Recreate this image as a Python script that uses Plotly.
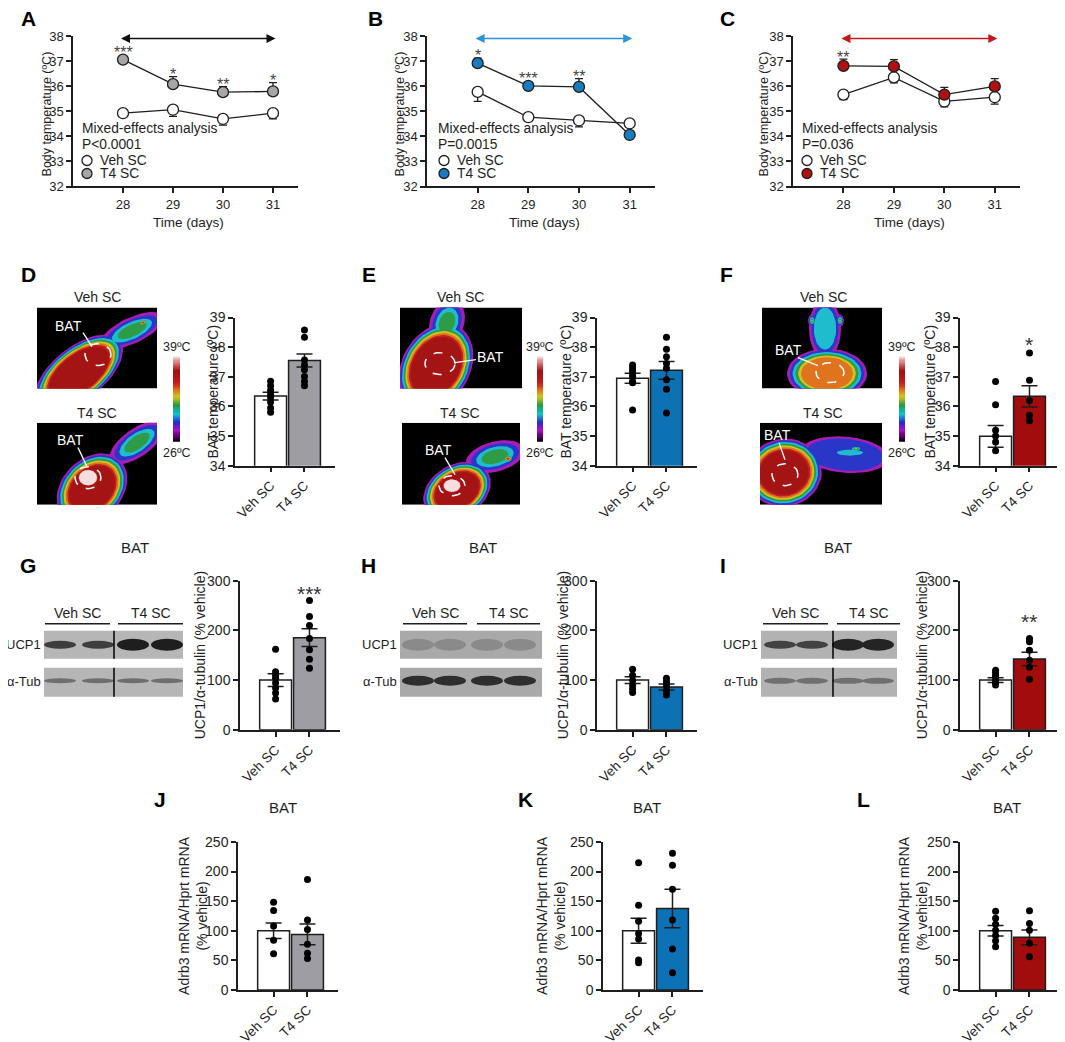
import numpy as np
import plotly.graph_objects as go

W, H = 1065, 1042
FONT = "Liberation Sans, Arial, sans-serif"
INK = "#1e1e1e"

# ---------------- data ----------------
days = [28, 29, 30, 31]
groups = ["Veh SC", "T4 SC"]

# A-C: body temperature (mean, SEM) at 23, 4 and 30 degrees
a_veh = [34.93, 35.07, 34.70, 34.93]
a_veh_sem = [0.05, 0.27, 0.25, 0.23]
a_t4 = [37.07, 36.09, 35.77, 35.80]
a_t4_sem = [0.05, 0.30, 0.22, 0.35]
a_stars = ["***", "*", "**", "*"]

b_veh = [35.78, 34.77, 34.64, 34.52]
b_veh_sem = [0.38, 0.15, 0.26, 0.05]
b_t4 = [36.93, 36.02, 35.98, 34.06]
b_t4_sem = [0.20, 0.05, 0.33, 0.12]
b_stars = ["*", "***", "**", ""]

c_veh = [35.67, 36.36, 35.40, 35.57]
c_veh_sem = [0.20, 0.22, 0.22, 0.28]
c_t4 = [36.82, 36.80, 35.67, 36.00]
c_t4_sem = [0.27, 0.27, 0.29, 0.31]
c_stars = ["**", "", "", ""]

# D-F: BAT temperature
d_mean, d_sem = [36.35, 37.55], [0.13, 0.22]
d_veh_pts = [36.85, 36.7, 36.55, 36.4, 36.3, 36.15, 35.95, 35.8]
d_t4_pts = [38.58, 38.34, 37.57, 37.4, 37.24, 37.01, 36.84, 36.7]
e_mean, e_sem = [36.95, 37.22], [0.17, 0.30]
e_veh_pts = [37.4, 37.3, 37.2, 37.1, 37.0, 36.85, 36.8, 35.88]
e_t4_pts = [38.34, 37.93, 37.68, 37.45, 37.29, 36.9, 36.58, 35.78]
f_mean, f_sem = [34.99, 36.34], [0.37, 0.36]
f_veh_pts = [36.84, 36.06, 35.2, 35.0, 34.8, 34.5]
f_t4_pts = [37.8, 36.88, 36.2, 35.7, 35.52]

# G-I: UCP1 / alpha-tubulin
g_mean, g_sem = [100, 185.5], [13, 18]
g_veh_pts = [162, 117, 110, 104, 94, 84, 74, 62]
g_t4_pts = [260, 228, 210, 184, 161, 142, 124]
h_mean, h_sem = [100, 86], [7, 6]
h_veh_pts = [122, 110, 99, 89, 82, 75]
h_t4_pts = [104, 97, 92, 86, 77, 70]
i_mean, i_sem = [100, 142.6], [5, 13.5]
i_veh_pts = [120, 115, 110, 106, 100, 95, 90]
i_t4_pts = [184, 177, 160, 140, 126, 102]

# J-L: Adrb3 mRNA
j_mean, j_sem = [100, 93.8], [13, 17.5]
j_veh_pts = [148, 134, 108, 84, 61]
j_t4_pts = [186.5, 118, 102, 77, 62, 53]
k_mean, k_sem = [100, 137.6], [21, 32.5]
k_veh_pts = [214.6, 143, 116, 95.5, 86, 50.6, 46]
k_t4_pts = [231, 210.7, 170, 118, 69, 29]
l_mean, l_sem = [100, 88.8], [9, 12.5]
l_veh_pts = [133, 121, 111, 101, 92, 83, 73]
l_t4_pts = [133.7, 112, 101, 78.7, 56]

GREY, BLUE, RED = "#9d9da3", "#0d71b5", "#a20c0c"
GREY_PT = "#a6a6a6"

THERMAL = [[0.0, "#000000"], [0.05, "#4a0060"], [0.13, "#b010c0"], [0.22, "#2a2ad0"],
           [0.32, "#10c4d4"], [0.42, "#1e9a40"], [0.52, "#cfc41c"], [0.6, "#e2741c"],
           [0.68, "#c21c1c"], [0.82, "#a01212"], [0.93, "#e08484"], [1.0, "#ffffff"]]
LEVELS = ["#a81cb8", "#2a36c8", "#1ebccc", "#2e9c46", "#d2c21e", "#e0741e",
          "#c21f1f", "#a51414", "#de7070", "#f6dede"]

fig = go.Figure()
lay = {}
anns = []
shapes = []
counter = [0]

# the page sits slightly offset/squeezed in the screenshot; positions below are
# screen pixels of the reference, so map them back onto the paper
OX, OY, SY = 8.0, 16.6, 1025.4


def px(x):
    return (x - OX) / W


def py(y):
    return 1 - (y - OY) / SY


def new_axes(x0, x1, y0, y1):
    counter[0] += 1
    s = "" if counter[0] == 1 else str(counter[0])
    lay["xaxis" + s] = dict(domain=[px(x0), px(x1)], anchor="y" + s)
    lay["yaxis" + s] = dict(domain=[py(y1), py(y0)], anchor="x" + s)
    return "x" + s, "y" + s, s


def text(t, x, y, size=13, color=INK, bold=False, **kw):
    d = dict(text=t, x=px(x), y=py(y), xref="paper", yref="paper", showarrow=False,
             xanchor="center", yanchor="middle",
             font=dict(family=FONT, size=size, color=color,
                       weight="bold" if bold else "normal"))
    d.update(kw)
    anns.append(d)


def axis_style(**kw):
    d = dict(showline=True, linecolor=INK, linewidth=1.5, ticks="outside", ticklen=5,
             tickwidth=1.5, tickcolor=INK, showgrid=False, zeroline=False,
             tickfont=dict(family=FONT, size=13, color=INK))
    d.update(kw)
    return d


# ---------------- A-C line charts ----------------
def line_panel(x0, x1, veh, veh_sem, t4, t4_sem, color, stars, arrow_c, temp, pval,
               letter, lx, ytx, txx, legx):
    xr, yr, s = new_axes(x0, x1, 37, 187)
    lay["xaxis" + s].update(axis_style(range=[27, 31.5], tickvals=days))
    lay["yaxis" + s].update(axis_style(range=[32, 38], dtick=1))
    for vals, sem, fill, up in [(veh, veh_sem, "white", False), (t4, t4_sem, color, True)]:
        zeros = [0] * len(vals)
        fig.add_trace(go.Scatter(
            x=days, y=vals, xaxis=xr, yaxis=yr, mode="lines+markers", showlegend=False,
            line=dict(color=INK, width=1.3), cliponaxis=False,
            marker=dict(size=11, color=fill, line=dict(color=INK, width=1.3)),
            error_y=dict(type="data", symmetric=False, array=sem if up else zeros,
                         arrayminus=zeros if up else sem, width=4, thickness=1.3, color=INK)))
    for d, v, e, st in zip(days, t4, t4_sem, stars):
        if st:
            anns.append(dict(text=st, x=d, y=max(v + e, v + 0.22) + 0.24, xref=xr, yref=yr,
                             showarrow=False, yshift=-4, xanchor="center", yanchor="middle",
                             font=dict(family=FONT, size=16, color="#444")))
    anns.append(dict(text="", x=31.05, y=37.92, ax=27.93, ay=37.92, xref=xr, yref=yr,
                     axref=xr, ayref=yr, showarrow=True, arrowhead=2, arrowside="end+start",
                     arrowsize=1.2, arrowwidth=1.5, arrowcolor=arrow_c, standoff=0,
                     startstandoff=0))
    anns.append(dict(text=temp, x=29.5, y=38.3, xref=xr, yref=yr, showarrow=False,
                     xanchor="center", yanchor="middle",
                     font=dict(family=FONT, size=14, color=arrow_c)))
    text(letter, lx, 19, size=21, color="#000", bold=True)
    text("Body temperature (ºC)", ytx, 115, size=12.5, textangle=-90)
    text("Time (days)", (x0 + x1) / 2 + 3, 223, size=13.5)
    text("Mixed-effects analysis", txx, 129, size=13.8, xanchor="left")
    text(pval, txx, 145, size=13.8, xanchor="left")
    text("Veh SC", legx + 11, 161, size=13.8, xanchor="left")
    text("T4 SC", legx + 11, 174, size=13.8, xanchor="left")
    for yy, fc in [(161, "white"), (174, color)]:
        shapes.append(dict(type="circle", xref="paper", yref="paper",
                           x0=px(legx - 5), x1=px(legx + 5), y0=py(yy + 5), y1=py(yy - 5),
                           fillcolor=fc, line=dict(color=INK, width=1.3)))


line_panel(73, 298, a_veh, a_veh_sem, a_t4, a_t4_sem, GREY_PT, a_stars, "#111111",
           "23ºC", "P<0.0001", "A", 28, 47, 80, 87)
line_panel(427, 655, b_veh, b_veh_sem, b_t4, b_t4_sem, "#1a7cc0", b_stars, "#2b93d8",
           "4ºC", "P=0.0015", "B", 375, 400, 436, 444)
line_panel(793, 1020, c_veh, c_veh_sem, c_t4, c_t4_sem, "#b01010", c_stars, "#c21a1a",
           "30ºC", "P=0.036", "C", 727, 764, 800, 807)


# ---------------- bar + dot panels ----------------
def bar_panel(x0, y0, y1, yrange, dtick, mean, sem, veh_pts, t4_pts, color, ytitle, ytx,
              star=None, star_y=None):
    xr, yr, s = new_axes(x0, x0 + 100, y0, y1)
    lay["xaxis" + s].update(axis_style(range=[-1.05, 1.9], tickvals=[0, 1], ticktext=groups,
                                       tickangle=-45,
                                       tickfont=dict(family=FONT, size=13.5, color=INK)))
    lay["yaxis" + s].update(axis_style(range=yrange, dtick=dtick,
                                       tickfont=dict(family=FONT, size=14, color=INK)))
    fig.add_trace(go.Bar(
        x=[0, 1], y=mean, width=0.94, xaxis=xr, yaxis=yr, showlegend=False,
        marker=dict(color=["white", color], line=dict(color=INK, width=1.5)),
        error_y=dict(type="data", array=sem, width=8, thickness=1.5, color=INK)))
    for i, pts in enumerate([veh_pts, t4_pts]):
        fig.add_trace(go.Scatter(x=[i] * len(pts), y=pts, xaxis=xr, yaxis=yr, mode="markers",
                                 marker=dict(size=7, color="#000"), showlegend=False,
                                 cliponaxis=False))
    if star:
        anns.append(dict(text=star, x=1, y=star_y, xref=xr, yref=yr, showarrow=False,
                         yshift=-5, xanchor="center", yanchor="middle",
                         font=dict(family=FONT, size=21, color="#333")))
    text(ytitle, ytx, (y0 + y1) / 2, size=14, textangle=-90)


bar_panel(235, 318, 466, [34, 39], 1, d_mean, d_sem, d_veh_pts, d_t4_pts, GREY,
          "BAT temperature (ºC)", 213, "***", 39.03)
bar_panel(597, 318, 466, [34, 39], 1, e_mean, e_sem, e_veh_pts, e_t4_pts, BLUE,
          "BAT temperature (ºC)", 566)
bar_panel(960, 318, 466, [34, 39], 1, f_mean, f_sem, f_veh_pts, f_t4_pts, RED,
          "BAT temperature (ºC)", 930, "*", 38.25)

bar_panel(240, 581, 730, [0, 300], 100, g_mean, g_sem, g_veh_pts, g_t4_pts, GREY,
          "UCP1/α-tubulin (% vehicle)", 200, "***", 285)
bar_panel(597, 581, 730, [0, 300], 100, h_mean, h_sem, h_veh_pts, h_t4_pts, BLUE,
          "UCP1/α-tubulin (% vehicle)", 563)
bar_panel(960, 581, 730, [0, 300], 100, i_mean, i_sem, i_veh_pts, i_t4_pts, RED,
          "UCP1/α-tubulin (% vehicle)", 922, "**", 228)

yt = "Adrb3 mRNA/Hprt mRNA<br>(% vehicle)"
bar_panel(238, 842, 990, [0, 250], 50, j_mean, j_sem, j_veh_pts, j_t4_pts, GREY, yt, 193)
bar_panel(603, 842, 990, [0, 250], 50, k_mean, k_sem, k_veh_pts, k_t4_pts, BLUE, yt, 551)
bar_panel(960, 842, 990, [0, 250], 50, l_mean, l_sem, l_veh_pts, l_t4_pts, RED, yt, 913)


# ---------------- thermal images (drawn, not photographs) ----------------
def ell(cx, cy, rx, ry, ang, sc=1.0, n=48):
    t = np.linspace(0, 2 * np.pi, n)
    a = np.radians(ang)
    ex, ey = rx * sc * np.cos(t), ry * sc * np.sin(t)
    return cx + ex * np.cos(a) - ey * np.sin(a), cy + ex * np.sin(a) + ey * np.cos(a)


def thermal(x0, x1, y0, y1, parts, bat, label):
    xr, yr, s = new_axes(x0, x1, y0, y1)
    w, h = x1 - x0, y1 - y0
    lay["xaxis" + s].update(visible=False, range=[0, w])
    lay["yaxis" + s].update(visible=False, range=[0, h])
    fig.add_trace(go.Scatter(x=[0, w, w, 0], y=[0, 0, h, h], fill="toself", fillcolor="#000",
                             line=dict(width=0), mode="lines", xaxis=xr, yaxis=yr,
                             hoverinfo="skip", showlegend=False))
    top = max(p[5] for p in parts)
    for k in range(top + 1):
        for cx, cy, rx, ry, ang, m, step in parts:
            if m >= k:
                xs, ys = ell(cx, cy, rx, ry, ang, 1 - k * step)
                fig.add_trace(go.Scatter(x=xs, y=ys, fill="toself", fillcolor=LEVELS[k],
                                         line=dict(width=0), mode="lines", xaxis=xr,
                                         yaxis=yr, hoverinfo="skip", showlegend=False))
    xs, ys = ell(*bat, 0)
    fig.add_trace(go.Scatter(x=xs, y=ys, mode="lines", xaxis=xr, yaxis=yr, hoverinfo="skip",
                             line=dict(color="white", width=1.5, dash="dash"),
                             showlegend=False))
    tx, ty, lx0, ly0, lx1, ly1 = label
    text("BAT", tx, ty, size=14, color="white")
    shapes.append(dict(type="line", xref="paper", yref="paper", x0=px(lx0), y0=py(ly0),
                       x1=px(lx1), y1=py(ly1), line=dict(color="white", width=1.3)))


def colorbar(x0, x1, y0, y1, cx):
    xr, yr, s = new_axes(x0, x1, y0, y1)
    vals = np.linspace(26, 39, 80)
    lay["xaxis" + s].update(visible=False)
    lay["yaxis" + s].update(visible=False, range=[26, 39])
    fig.add_trace(go.Heatmap(z=[[v] for v in vals], x=[0], y=vals, colorscale=THERMAL,
                             zmin=26, zmax=39, showscale=False, xaxis=xr, yaxis=yr,
                             hoverinfo="skip"))
    text("39ºC", cx, 347, size=12.5)
    text("26ºC", cx, 453, size=12.5)


# D
thermal(37, 157, 308, 389,
        [(95, 58, 34, 13, 25, 3, 0.18), (106, 66, 5, 3, 30, 6, 0.12),
         (42, 16, 52, 26, 38, 7, 0.045)],
        (61, 34, 13, 11), (68, 326, 83, 333, 92, 347))
thermal(37, 157, 423, 505,
        [(100, 62, 32, 14, 35, 3, 0.18), (55, 16, 40, 30, 45, 7, 0.05),
         (51, 27, 13, 11, 0, 9, 0.035)],
        (51, 27, 13, 11), (70, 440, 78, 448, 87, 467))
colorbar(173, 180, 356, 442, 177)
# E
thermal(400, 522, 308, 389,
        [(47, 66, 24, 17, 70, 3, 0.18), (36, 22, 46, 34, 60, 7, 0.045)],
        (40, 25, 15, 11), (490, 357, 455, 363, 476, 360))
thermal(402, 520, 423, 505,
        [(93, 48, 30, 15, 15, 3, 0.18), (106, 46, 5, 4, 0, 6, 0.12),
         (55, 14, 36, 26, 30, 7, 0.05), (50, 19, 12, 9, 0, 9, 0.035)],
        (50, 19, 13, 10), (438, 450, 445, 458, 455, 475))
colorbar(537, 543, 356, 442, 540)
# F
thermal(762, 882, 308, 389,
        [(63, 60, 30, 16, 90, 2, 0.15), (50, 68, 6, 4, 90, 4, 0.2),
         (78, 68, 6, 4, 90, 4, 0.2), (65, 15, 40, 25, 0, 5, 0.07)],
        (68, 16, 14, 10), (788, 350, 798, 358, 818, 366))
thermal(760, 882, 423, 505,
        [(85, 50, 44, 18, -5, 1, 0.12), (90, 52, 22, 5, 0, 2, 0.2),
         (96, 56, 7, 3, 0, 4, 0.2), (24, 32, 38, 34, 10, 7, 0.05)],
        (25, 30, 13, 11), (777, 435, 779, 443, 785, 460))
colorbar(899, 905, 356, 442, 902)

for x, lab in [(28, "D"), (369, "E"), (726, "F")]:
    text(lab, x, 275, size=21, color="#000", bold=True)
for x in (97, 460, 823):
    text("Veh SC", x, 297, size=14)
    text("T4 SC", x, 413, size=14)


# ---------------- western blots (drawn) ----------------
def blot(x0, x1, lanes, ucp_col, ucp_h, tub_col, tub_h, bg, vline, veh_span, t4_span):
    for (ry0, ry1) in [(631, 659), (668, 697)]:
        shapes.append(dict(type="rect", xref="paper", yref="paper", x0=px(x0), x1=px(x1),
                           y0=py(ry1), y1=py(ry0), fillcolor=bg, line=dict(width=0)))
    for i, lx in enumerate(lanes):
        for yc, col, hh in [(645, ucp_col[i], ucp_h[i]), (681, tub_col, tub_h)]:
            shapes.append(dict(type="circle", xref="paper", yref="paper",
                               x0=px(lx - 16), x1=px(lx + 16), y0=py(yc + hh), y1=py(yc - hh),
                               fillcolor=col, line=dict(width=0)))
    if vline:
        for (ry0, ry1) in [(631, 659), (668, 697)]:
            shapes.append(dict(type="line", xref="paper", yref="paper", x0=px(vline),
                               x1=px(vline), y0=py(ry1), y1=py(ry0),
                               line=dict(color="#000", width=1.5)))
    for lab, (a, b) in [("Veh SC", veh_span), ("T4 SC", t4_span)]:
        text(lab, (a + b) / 2, 613, size=14)
        shapes.append(dict(type="line", xref="paper", yref="paper", x0=px(a), x1=px(b),
                           y0=py(624), y1=py(624), line=dict(color=INK, width=1.3)))
    text("UCP1", x0 - 1, 645, size=13, xanchor="right")
    text("α-Tub", x0 - 1, 682, size=13, xanchor="right")


blot(44, 183, [60, 98, 133, 167], ["#3e3e3e", "#3e3e3e", "#1e1e1e", "#1e1e1e"],
     [4, 4, 6, 6], "#6e6e6e", 2.5, "#b6b6b6", 114, (45, 110), (118, 183))
blot(400, 542, [418, 450, 487, 520], ["#8a8a8a"] * 4, [6] * 4, "#2e2e2e", 5, "#a9a9a9",
     None, (403, 467), (477, 540))
blot(761, 897, [780, 812, 848, 878], ["#424242", "#424242", "#242424", "#242424"],
     [4, 4, 6, 6], "#707070", 3, "#b2b2b2", 833, (763, 828), (837, 900))

for x, lab in [(28, "G"), (368, "H"), (723, "I")]:
    text(lab, x, 566, size=21, color="#000", bold=True)
for x in (135, 483, 838):
    text("BAT", x, 548, size=15)
for x, lab, bx in [(160, "J", 283), (525, "K", 647), (863, "L", 1007)]:
    text(lab, x, 800, size=21, color="#000", bold=True)
    text("BAT", bx, 808, size=15)

fig.update_layout(lay)
fig.update_layout(width=W, height=H, margin=dict(l=0, r=0, t=0, b=0),
                  paper_bgcolor="white", plot_bgcolor="white",
                  font=dict(family=FONT, color=INK), annotations=anns, shapes=shapes,
                  showlegend=False)
fig.write_html("out.html")
